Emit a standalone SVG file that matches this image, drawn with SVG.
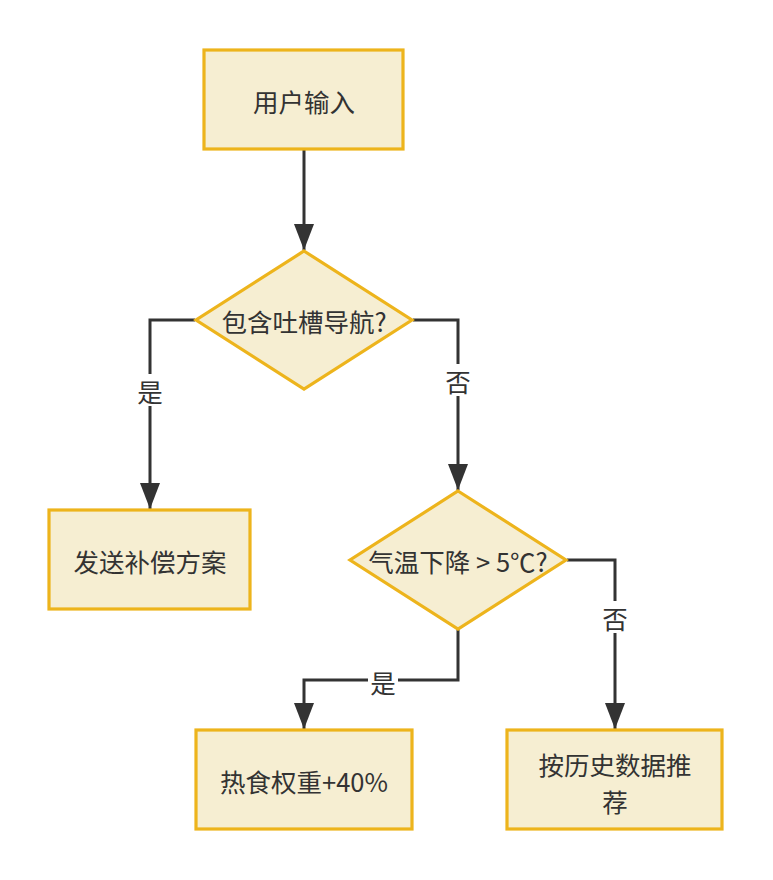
<svg xmlns="http://www.w3.org/2000/svg" width="773" height="880" viewBox="0 0 773 880">
<style>
.node{fill:#F6EED2;stroke:#EDB41C;stroke-width:3.2}
.t{font-family:"Noto Sans CJK SC","Noto Sans",sans-serif;font-size:25.5px;fill:#333;text-anchor:middle;dominant-baseline:central}
.edge{fill:none;stroke:#333;stroke-width:3}
.lb{fill:#fff}
</style>
<defs>
<marker id="arr" viewBox="0 0 26 20" refX="26" refY="10" markerWidth="26" markerHeight="20" markerUnits="userSpaceOnUse" orient="auto">
<path d="M0,0 L26,10 L0,20 z" fill="#333"/>
</marker>
</defs>
<rect width="773" height="880" fill="#fff"/>
<g id="connectors">
<path class="edge" d="M304,150 V250" marker-end="url(#arr)"/>
<path class="edge" d="M195,320 H150 V509" marker-end="url(#arr)"/>
<path class="edge" d="M413,320 H458 V490" marker-end="url(#arr)"/>
<path class="edge" d="M458,629 V680 H304 V729" marker-end="url(#arr)"/>
<path class="edge" d="M567,560 H615 V729" marker-end="url(#arr)"/>
<rect class="lb" x="135" y="374" width="30" height="32"/>
<text class="t" x="150" y="390">是</text>
<rect class="lb" x="443" y="364" width="30" height="32"/>
<text class="t" x="458" y="380">否</text>
<rect class="lb" x="368" y="665" width="30" height="32"/>
<text class="t" x="383" y="681">是</text>
<rect class="lb" x="600" y="601" width="30" height="32"/>
<text class="t" x="615" y="617">否</text>
</g>
<g id="n1">
<rect class="node" x="204" y="50" width="199" height="99"/>
<text class="t" x="304" y="100">用户输入</text>
</g>
<g id="d1">
<polygon class="node" points="304,251 412,320 304,389 196,320"/>
<text class="t" x="304" y="320">包含吐槽导航?</text>
</g>
<g id="n2">
<rect class="node" x="49" y="510" width="201" height="99"/>
<text class="t" x="150" y="560">发送补偿方案</text>
</g>
<g id="d2">
<polygon class="node" points="458,491 566,560 458,629 350,560"/>
<text class="t" x="458" y="560">气温下降 &gt; 5℃?</text>
</g>
<g id="n3">
<rect class="node" x="196" y="730" width="216" height="99"/>
<text class="t" x="304" y="780">热食权重+40%</text>
</g>
<g id="n4">
<rect class="node" x="507" y="730" width="215" height="99"/>
<text class="t"><tspan x="615" y="763">按历史数据推</tspan><tspan x="615" y="800">荐</tspan></text>
</g>
</svg>
